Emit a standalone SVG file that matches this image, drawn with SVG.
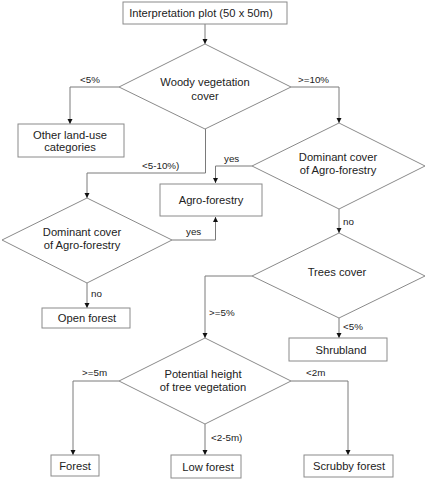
<svg xmlns="http://www.w3.org/2000/svg" width="425" height="479" viewBox="0 0 425 479">
<defs>
<style>
.n{fill:#fff;stroke:#8a8a8a;stroke-width:1}
.t{font-family:"Liberation Sans",Arial,sans-serif;font-size:11.2px;fill:#222;text-anchor:middle}
.l{font-family:"Liberation Sans",Arial,sans-serif;font-size:9.8px;fill:#222}
.c{fill:none;stroke:#7a7a7a;stroke-width:1}
</style>
<marker id="a" markerWidth="6" markerHeight="6" refX="5" refY="3" orient="auto" markerUnits="userSpaceOnUse">
<path d="M0,0.5 L5,3 L0,5.5 Z" fill="#111"/>
</marker>
</defs>
<rect width="425" height="479" fill="#fff"/>
<g id="connectors">
<path class="c" d="M205,24 V44" marker-end="url(#a)"/>
<path class="c" d="M119,87 H70 V124" marker-end="url(#a)"/>
<path class="c" d="M291,87 H339 V123" marker-end="url(#a)"/>
<path class="c" d="M252,166 H215.5 V183" marker-end="url(#a)"/>
<path class="c" d="M205.5,129 V173 H87 V198" marker-end="url(#a)"/>
<path class="c" d="M172,240 H215.5 V217" marker-end="url(#a)"/>
<path class="c" d="M87,283 V308" marker-end="url(#a)"/>
<path class="c" d="M339,209 V233" marker-end="url(#a)"/>
<path class="c" d="M252,276 H205 V338" marker-end="url(#a)"/>
<path class="c" d="M339,318 V338" marker-end="url(#a)"/>
<path class="c" d="M119,381 H73 V455" marker-end="url(#a)"/>
<path class="c" d="M205,424 V455" marker-end="url(#a)"/>
<path class="c" d="M291,381 H348 V455" marker-end="url(#a)"/>
<text class="l" x="80" y="83">&lt;5%</text>
<text class="l" x="298" y="83">&gt;=10%</text>
<text class="l" x="224" y="162">yes</text>
<text class="l" x="142" y="169">&lt;5-10%)</text>
<text class="l" x="186" y="235">yes</text>
<text class="l" x="91" y="297">no</text>
<text class="l" x="343" y="225">no</text>
<text class="l" x="209" y="316">&gt;=5%</text>
<text class="l" x="343" y="330">&lt;5%</text>
<text class="l" x="82" y="376">&gt;=5m</text>
<text class="l" x="306" y="376">&lt;2m</text>
<text class="l" x="211" y="441">&lt;2-5m)</text>
</g>
<g id="n-plot">
<rect class="n" x="123" y="2" width="164" height="22"/>
<text class="t" x="201" y="17">Interpretation plot (50 x 50m)</text>
</g>
<g id="n-woody">
<polygon class="n" points="205,44 291,87 205,129 119,87"/>
<text class="t" x="205" y="86">Woody vegetation</text>
<text class="t" x="205" y="100">cover</text>
</g>
<g id="n-other">
<rect class="n" x="18" y="124" width="106" height="33"/>
<text class="t" x="70" y="139">Other land-use</text>
<text class="t" x="70" y="151">categories</text>
</g>
<g id="n-dom1">
<polygon class="n" points="339,123 425,166 339,209 252,166"/>
<text class="t" x="338" y="161">Dominant cover</text>
<text class="t" x="338" y="174">of Agro-forestry</text>
</g>
<g id="n-agro">
<rect class="n" x="160" y="184" width="102" height="32"/>
<text class="t" x="211" y="204">Agro-forestry</text>
</g>
<g id="n-dom2">
<polygon class="n" points="87,198 172,240 87,283 2,240"/>
<text class="t" x="82" y="236">Dominant cover</text>
<text class="t" x="82" y="249">of Agro-forestry</text>
</g>
<g id="n-open">
<rect class="n" x="42" y="308" width="88" height="20"/>
<text class="t" x="87" y="322">Open forest</text>
</g>
<g id="n-trees">
<polygon class="n" points="339,233 425,276 339,318 252,276"/>
<text class="t" x="337" y="276">Trees cover</text>
</g>
<g id="n-shrub">
<rect class="n" x="289" y="338" width="98" height="23"/>
<text class="t" x="341" y="354">Shrubland</text>
</g>
<g id="n-height">
<polygon class="n" points="205,338 291,381 205,424 119,381"/>
<text class="t" x="203" y="378">Potential height</text>
<text class="t" x="203" y="391">of tree vegetation</text>
</g>
<g id="n-forest">
<rect class="n" x="51" y="455" width="48" height="21"/>
<text class="t" x="75" y="470">Forest</text>
</g>
<g id="n-low">
<rect class="n" x="171" y="455" width="70" height="23"/>
<text class="t" x="208" y="471">Low forest</text>
</g>
<g id="n-scrub">
<rect class="n" x="304" y="455" width="89" height="22"/>
<text class="t" x="349" y="470">Scrubby forest</text>
</g>
</svg>
